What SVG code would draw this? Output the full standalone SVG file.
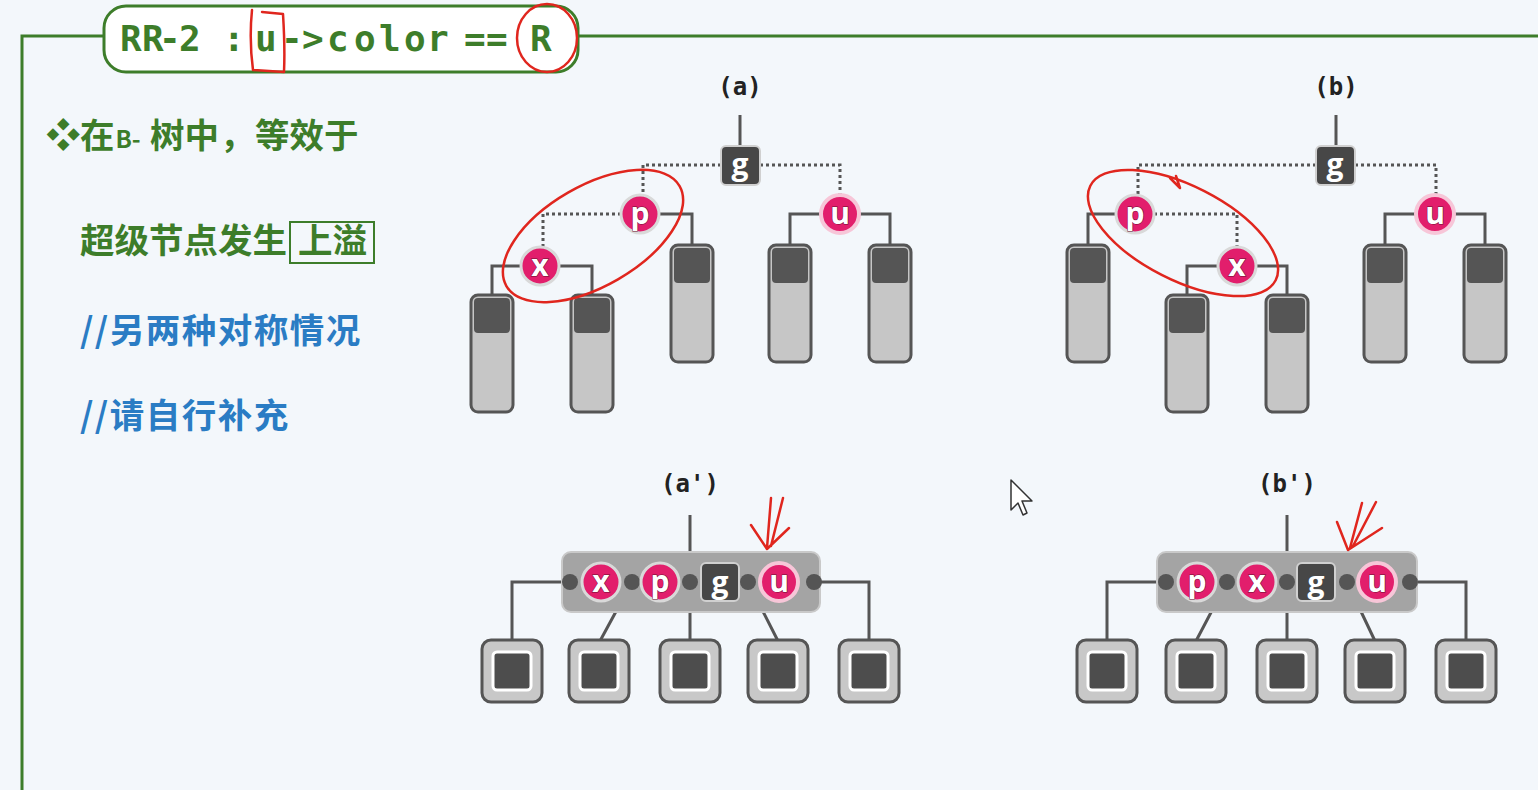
<svg xmlns="http://www.w3.org/2000/svg" width="1538" height="790" viewBox="0 0 1538 790">
<defs>
<style>
.frame{fill:none;stroke:#3d7d2a;stroke-width:3}
.title{font-family:"DejaVu Sans Mono","Liberation Mono",monospace;font-weight:bold;font-size:36px;fill:#3d7d2a}
.gtxt{font-family:"Noto Sans CJK SC","Noto Sans",sans-serif;font-weight:bold;font-size:34.5px;fill:#3d7d2a}
.btxt{font-family:"Noto Sans CJK SC","Noto Sans",sans-serif;font-weight:bold;font-size:34.5px;fill:#2a7cc4;letter-spacing:1.5px}
.lbl{font-family:"DejaVu Sans Mono","Liberation Mono",monospace;font-weight:bold;font-size:24px;fill:#222;text-anchor:middle}
.solid{fill:none;stroke:#555;stroke-width:3}
.dot{fill:none;stroke:#555;stroke-width:3;stroke-dasharray:3 3}
.red{fill:#e21e6c;stroke:#d9d9d9;stroke-width:3}
.redu{fill:#e21e6c;stroke:#f7c6d8;stroke-width:4}
.blk{fill:#474747;stroke:#d0d0d0;stroke-width:2}
.ntx{font-family:"Open Sans","DejaVu Sans",sans-serif;font-weight:bold;font-size:30px;fill:#fff;text-anchor:middle;paint-order:stroke;stroke:#6a1030;stroke-width:1}
.gtx{font-family:"Open Sans","DejaVu Sans",sans-serif;font-weight:bold;font-size:30px;fill:#fff;text-anchor:middle}
.lbody{fill:#c6c6c6;stroke:#555;stroke-width:3}
.ltop{fill:#555}
.souter{fill:#c8c8c8;stroke:#555;stroke-width:3}
.sinner{fill:#4d4d4d;stroke:#fff;stroke-width:3}
.super{fill:#a4a4a4;stroke:#c9c9c9;stroke-width:2}
.sdot{fill:#555}
.ink{fill:none;stroke:#e0261e;stroke-width:2.5;stroke-linecap:round;stroke-linejoin:round}
</style>
<g id="tall">
<rect x="-21" y="0" width="42" height="117" rx="7" class="lbody"/>
<rect x="-18" y="3" width="36" height="35" rx="4" class="ltop"/>
</g>
<g id="sq">
<rect x="-30" y="0" width="60" height="62" rx="9" class="souter"/>
<rect x="-19" y="12" width="38" height="38" rx="4" class="sinner"/>
</g>
</defs>
<rect width="1538" height="790" fill="#f3f7fb"/>

<g id="frame">
<path class="frame" d="M22,790 V36 H104 M578,36 H1538"/>
<rect x="104" y="6" width="474" height="66" rx="22" fill="#fff" stroke="#3d7d2a" stroke-width="3"/>
<text class="title" y="51" x="120 142 159 179 200 223 255 281 302 327 354 379 404 427 450 464 486 510 530">RR-2 :u-&gt;color == R</text>
<path class="ink" d="M252,10 C250,30 251,55 253,70 L284,72 C285,50 284,30 283,14 L262,12"/>
<ellipse class="ink" cx="547" cy="38" rx="30" ry="34"/>
</g>

<g id="text">
<text class="gtxt" x="46" y="148" font-size="26">❖</text>
<text class="gtxt" x="80" y="148" font-size="33">在<tspan font-size="24" dx="1">B-</tspan><tspan x="150">树中</tspan><tspan x="220">，</tspan><tspan x="255">等效于</tspan></text>
<text class="gtxt" x="80" y="253">超级节点发生</text>
<rect x="290" y="222" width="84" height="41" fill="none" stroke="#3d7d2a" stroke-width="2"/>
<text class="gtxt" x="298" y="253">上溢</text>
<text class="btxt" x="80" y="343">//另两种对称情况</text>
<text class="btxt" x="80" y="428">//请自行补充</text>
</g>

<g id="connectors">
<!-- (a) -->
<path class="solid" d="M740,115 V147"/>
<path class="dot" d="M721,165 H643 V196 M760,165 H840 V194"/>
<path class="dot" d="M621,214 H543 V248"/>
<path class="solid" d="M659,214 H692 V247 M820,214 H790 V247 M860,214 H890 V247"/>
<path class="solid" d="M521,266 H492 V297 M559,266 H592 V297"/>
<!-- (b) -->
<path class="solid" d="M1336,115 V147"/>
<path class="dot" d="M1316,165 H1138 V196 M1355,165 H1436 V194"/>
<path class="dot" d="M1154,214 H1237 V248"/>
<path class="solid" d="M1116,214 H1088 V247 M1218,266 H1187 V297 M1256,266 H1287 V297 M1415,214 H1385 V247 M1455,214 H1485 V247"/>
<!-- (a') -->
<path class="solid" d="M690,515 V552"/>
<path class="solid" d="M570,582 H512 V641 M632,582 L600,641 M690,582 V641 M748,582 L778,641 M814,582 H869 V641"/>
<!-- (b') -->
<path class="solid" d="M1287,515 V552"/>
<path class="solid" d="M1166,582 H1107 V641 M1227,582 L1196,641 M1287,582 V641 M1347,582 L1375,641 M1410,582 H1466 V641"/>
</g>

<g id="labels">
<text class="lbl" x="740" y="95">(a)</text>
<text class="lbl" x="1336" y="95">(b)</text>
<text class="lbl" x="690" y="492">(a')</text>
<text class="lbl" x="1287" y="492">(b')</text>
</g>

<g id="tree-a">
<g id="a-g"><rect x="721" y="146" width="39" height="39" rx="5" class="blk"/><text class="gtx" x="740" y="175">g</text></g>
<g id="a-p"><circle cx="640" cy="214" r="19" class="red"/><text class="ntx" x="640" y="224">p</text></g>
<g id="a-u"><circle cx="840" cy="214" r="19" class="redu"/><text class="ntx" x="840" y="224">u</text></g>
<g id="a-x"><circle cx="540" cy="266" r="19" class="red"/><text class="ntx" x="540" y="276">x</text></g>
<use href="#tall" x="492" y="295"/>
<use href="#tall" x="592" y="295"/>
<use href="#tall" x="692" y="245"/>
<use href="#tall" x="790" y="245"/>
<use href="#tall" x="890" y="245"/>
</g>

<g id="tree-b">
<g id="b-g"><rect x="1316" y="146" width="39" height="39" rx="5" class="blk"/><text class="gtx" x="1335" y="175">g</text></g>
<g id="b-p"><circle cx="1135" cy="214" r="19" class="red"/><text class="ntx" x="1135" y="224">p</text></g>
<g id="b-u"><circle cx="1435" cy="214" r="19" class="redu"/><text class="ntx" x="1435" y="224">u</text></g>
<g id="b-x"><circle cx="1237" cy="266" r="19" class="red"/><text class="ntx" x="1237" y="276">x</text></g>
<use href="#tall" x="1088" y="245"/>
<use href="#tall" x="1187" y="295"/>
<use href="#tall" x="1287" y="295"/>
<use href="#tall" x="1385" y="245"/>
<use href="#tall" x="1485" y="245"/>
</g>

<g id="tree-a2">
<rect x="562" y="552" width="258" height="60" rx="9" class="super"/>
<circle cx="570" cy="582" r="8" class="sdot"/>
<circle cx="632" cy="582" r="8" class="sdot"/>
<circle cx="690" cy="582" r="8" class="sdot"/>
<circle cx="748" cy="582" r="8" class="sdot"/>
<circle cx="814" cy="582" r="8" class="sdot"/>
<circle cx="601" cy="582" r="19" class="red" stroke="#fff"/><text class="ntx" x="601" y="592">x</text>
<circle cx="660" cy="582" r="19" class="red" stroke="#fff"/><text class="ntx" x="660" y="592">p</text>
<rect x="701" y="563" width="38" height="38" rx="5" class="blk"/><text class="gtx" x="720" y="593">g</text>
<circle cx="779" cy="582" r="19" class="redu" stroke="#fff"/><text class="ntx" x="779" y="592">u</text>
<use href="#sq" x="512" y="640"/>
<use href="#sq" x="599" y="640"/>
<use href="#sq" x="690" y="640"/>
<use href="#sq" x="778" y="640"/>
<use href="#sq" x="869" y="640"/>
</g>

<g id="tree-b2">
<rect x="1157" y="552" width="260" height="60" rx="9" class="super"/>
<circle cx="1166" cy="582" r="8" class="sdot"/>
<circle cx="1227" cy="582" r="8" class="sdot"/>
<circle cx="1287" cy="582" r="8" class="sdot"/>
<circle cx="1347" cy="582" r="8" class="sdot"/>
<circle cx="1410" cy="582" r="8" class="sdot"/>
<circle cx="1197" cy="582" r="19" class="red" stroke="#fff"/><text class="ntx" x="1197" y="592">p</text>
<circle cx="1257" cy="582" r="19" class="red" stroke="#fff"/><text class="ntx" x="1257" y="592">x</text>
<rect x="1297" y="563" width="38" height="38" rx="5" class="blk"/><text class="gtx" x="1316" y="593">g</text>
<circle cx="1377" cy="582" r="19" class="redu" stroke="#fff"/><text class="ntx" x="1377" y="592">u</text>
<use href="#sq" x="1107" y="640"/>
<use href="#sq" x="1196" y="640"/>
<use href="#sq" x="1287" y="640"/>
<use href="#sq" x="1375" y="640"/>
<use href="#sq" x="1466" y="640"/>
</g>

<g id="annotations">
<ellipse class="ink" cx="593" cy="236" rx="100" ry="50" transform="rotate(-30 593 236)"/>
<ellipse class="ink" cx="1183" cy="233" rx="104" ry="47" transform="rotate(27 1183 233)"/>
<path class="ink" d="M1170,178 L1180,188 L1176,176"/>
<path class="ink" d="M771,498 L767,548 M783,498 L771,546 M751,525 L767,549 L789,528"/>
<path class="ink" d="M1362,503 L1350,548 M1376,502 L1353,546 M1337,522 L1348,550 L1382,528"/>
<path d="M1011,480 V510 L1018,503 L1023,515 L1027,513 L1022,501 L1032,501 Z" fill="#fff" stroke="#333" stroke-width="1.5" stroke-linejoin="round"/>
</g>
</svg>
